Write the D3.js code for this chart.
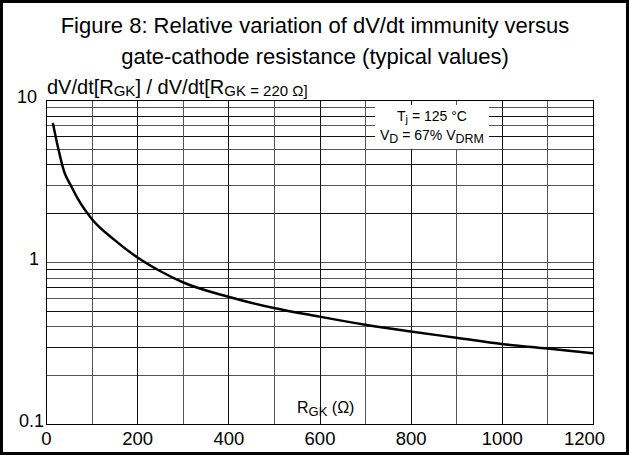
<!DOCTYPE html>
<html><head><meta charset="utf-8">
<script src="https://cdn.jsdelivr.net/npm/d3@7"></script>
<style>html,body{margin:0;padding:0;background:#fff;}svg{display:block;font-family:Arial,"Liberation Sans",sans-serif;}</style>
</head><body>
<svg id="c" width="629" height="455"></svg>
<script>
const rgk = [15, 25, 40, 55, 70, 100, 150, 200, 250, 300, 400, 500, 600, 700, 800, 900, 1000, 1100, 1200];
const ratio = [7.2, 5.3, 3.6, 2.95, 2.45, 1.85, 1.37, 1.07, 0.88, 0.75, 0.61, 0.52, 0.46, 0.41, 0.372, 0.341, 0.312, 0.292, 0.273];
const xTicks = [0, 200, 400, 600, 800, 1000, 1200];
const xGrid = d3.range(0, 1201, 100);
const yTicks = [0.1, 1, 10];
const yTickLabels = ["0.1", "1", "10"];
const yGrid = [];
[0.1, 1].forEach(d => { for (let k = 1; k <= 9; k++) yGrid.push(d * k); });
yGrid.push(10);

const svg = d3.select("#c");
const L = 46, R = 593, T = 100, B = 424;
const x = d3.scaleLinear().domain([0, 1200]).range([L, R]);
const y = d3.scaleLog().domain([0.1, 10]).range([B, T]);
const FONT = "Arial, 'Liberation Sans', sans-serif";

// outer frame
svg.append("rect").attr("x", 1.5).attr("y", 1.5).attr("width", 626).attr("height", 452)
  .attr("fill", "#fff").attr("stroke", "#000").attr("stroke-width", 3);

// title
const title = svg.append("text").attr("text-anchor", "middle").attr("font-size", 22).attr("fill", "#000");
title.append("tspan").attr("x", 315).attr("y", 33).text("Figure 8: Relative variation of dV/dt immunity versus");
title.append("tspan").attr("x", 315).attr("y", 64).text("gate-cathode resistance (typical values)");

// grid
const g = svg.append("g").attr("shape-rendering", "crispEdges");
g.selectAll(".hg").data(yGrid).join("line")
  .attr("x1", L).attr("x2", R)
  .attr("y1", d => Math.round(y(d)) + 0.5).attr("y2", d => Math.round(y(d)) + 0.5)
  .attr("stroke", (d, i) => i % 2 ? "#555" : "#111").attr("stroke-width", 1);
g.selectAll(".vg").data(xGrid).join("line")
  .attr("y1", T).attr("y2", B)
  .attr("x1", d => Math.round(x(d)) + 0.5).attr("x2", d => Math.round(x(d)) + 0.5)
  .attr("stroke", (d, i) => i % 2 ? "#555" : "#111").attr("stroke-width", 1);

// frame of plot
g.append("rect").attr("x", L + 0.5).attr("y", T + 0.5).attr("width", R - L).attr("height", B - T)
  .attr("fill", "none").attr("stroke", "#000").attr("stroke-width", 1);

// legend box
svg.append("rect").attr("x", 375).attr("y", 105).attr("width", 114).attr("height", 44).attr("fill", "#fff");
const lg1 = svg.append("text").attr("x", 432).attr("y", 121).attr("text-anchor", "middle").attr("font-size", 14);
lg1.append("tspan").text("T");
lg1.append("tspan").attr("font-size", 11).attr("dy", 2).text("j");
lg1.append("tspan").attr("dy", -2).text(" = 125 °C");
const lg2 = svg.append("text").attr("x", 432).attr("y", 140).attr("text-anchor", "middle").attr("font-size", 14);
lg2.append("tspan").text("V");
lg2.append("tspan").attr("font-size", 12.5).attr("dy", 3).text("D");
lg2.append("tspan").attr("dy", -3).text(" = 67% V");
lg2.append("tspan").attr("font-size", 12.5).attr("dy", 3).text("DRM");

// y tick labels
const yLabelRight = {"0.1": 44, "1": 39, "10": 37};
const yAxis = d3.axisLeft(y).tickValues(yTicks).tickSize(0).tickFormat((d, i) => yTickLabels[i]);
const ya = svg.append("g").call(yAxis);
ya.select(".domain").remove();
ya.selectAll("text").attr("font-size", 18).attr("font-family", FONT).attr("fill", "#000")
  .attr("x", function () { return yLabelRight[this.textContent]; })
  .attr("dy", 2).attr("dominant-baseline", "alphabetic");

// x tick labels
const xAxis = d3.axisBottom(x).tickValues(xTicks).tickSize(0).tickFormat(d3.format("d"));
const xa = svg.append("g").attr("transform", `translate(0,${B})`).call(xAxis);
xa.select(".domain").remove();
xa.selectAll("text").attr("font-size", 18.5).attr("font-family", FONT).attr("fill", "#000")
  .attr("y", 0).attr("dy", 21)
  .attr("x", d => d === 1200 ? -9 : 0);

// y title
const yt = svg.append("text").attr("x", 47).attr("y", 94).attr("font-size", 20);
yt.append("tspan").text("dV/dt[R");
yt.append("tspan").attr("font-size", 15).attr("dy", 2).text("GK");
yt.append("tspan").attr("dy", -2).text("] / dV/dt[R");
yt.append("tspan").attr("font-size", 15).attr("dy", 2).text("GK = 220 Ω]");

// x title
const xt = svg.append("text").attr("x", 297).attr("y", 413).attr("font-size", 16);
xt.append("tspan").text("R");
xt.append("tspan").attr("font-size", 13).attr("dy", 2.5).text("GK");
xt.append("tspan").attr("dy", -2.5).text(" (Ω)");

// curve
const pts = rgk.map((d, i) => [d, ratio[i]]);
const line = d3.line().x(d => x(d[0])).y(d => y(d[1])).curve(d3.curveMonotoneX);
svg.append("path").datum(pts).attr("d", line).attr("fill", "none")
  .attr("stroke", "#000").attr("stroke-width", 2.5);
</script>
</body></html>
